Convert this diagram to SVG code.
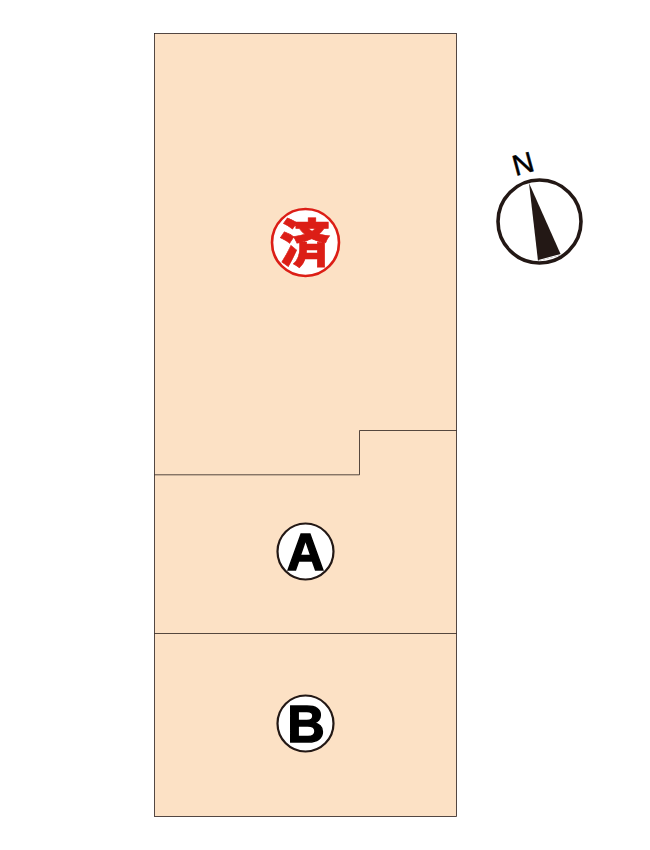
<svg xmlns="http://www.w3.org/2000/svg" width="650" height="850" viewBox="0 0 650 850">
<style>
.lot{fill:#fce1c5;stroke:#2a1f1c;stroke-width:.8}
.ln{fill:none;stroke:#2a1f1c;stroke-width:.8}
.mark{fill:#fff;stroke:#231815;stroke-width:2.2}
.lab{font-family:"Liberation Sans",Arial,sans-serif;font-weight:700;font-size:52px;text-anchor:middle;fill:#000;stroke:#000;stroke-width:1.400}
</style>
<rect width="650" height="850" fill="#fff"/>
<g id="site">
<rect class="lot" x="154.500" y="33.500" width="302" height="783"/>
</g>
<g id="boundaries">
<path class="ln" d="M154.500 474.800H359.500V430.500H456.500"/>
<path class="ln" d="M154.500 633.500H456.500"/>
</g>
<g id="lot-sold">
<circle cx="305.500" cy="242.500" r="33.500" fill="#fff" stroke="#dc1e16" stroke-width="2.600"/>
<text x="304.800" y="261.500" font-family="'Noto Sans CJK JP','Noto Sans CJK SC',sans-serif" font-weight="900" font-size="51" text-anchor="middle" fill="#dc1e16" stroke="#dc1e16" stroke-width=".6">済</text>
</g>
<g id="lot-a">
<circle class="mark" cx="305.500" cy="551.500" r="28"/>
<text class="lab" x="305.500" y="569.500">A</text>
</g>
<g id="lot-b">
<circle class="mark" cx="305.500" cy="723.500" r="28"/>
<text class="lab" x="306" y="741.500">B</text>
</g>
<g id="north">
<circle cx="539.500" cy="221.500" r="41.500" fill="#fff" stroke="#231815" stroke-width="3.600"/>
<path d="M529 183L538 261L561 255Z" fill="#231815"/>
<path d="M538.500 260.500L561 254.500" stroke="#fff" stroke-width="1.200"/>
<text x="0" y="0" transform="translate(515.500 176) rotate(-15)" font-family="'Liberation Sans',Arial,sans-serif" font-size="29" fill="#000" stroke="#000" stroke-width=".5">N</text>
</g>
</svg>
